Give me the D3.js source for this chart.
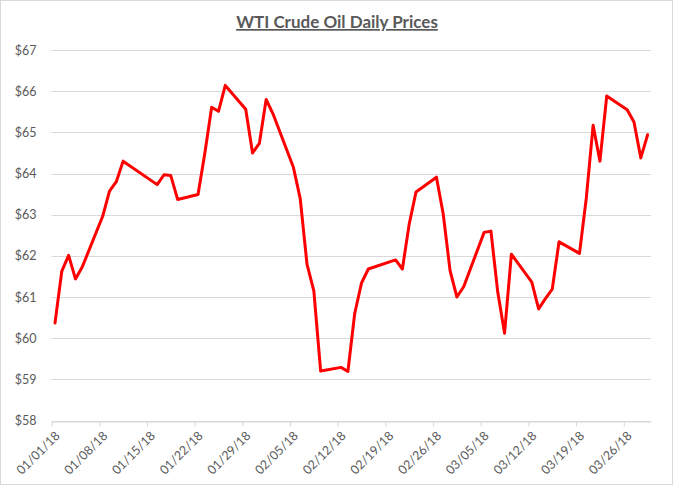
<!DOCTYPE html>
<html>
<head>
<meta charset="utf-8">
<script src="https://cdn.jsdelivr.net/npm/d3@7"></script>
<style>
  body { margin: 0; background: #fff; }
  text { font-family: Lato, "Open Sans", sans-serif; fill: #595959; }
</style>
</head>
<body>
<div class="chart"></div>
<script>
// trading days as plotted in the chart
const dates = [
    "2018-01-01", "2018-01-02", "2018-01-03", "2018-01-04", "2018-01-05",
    "2018-01-08", "2018-01-09", "2018-01-10", "2018-01-11",
    "2018-01-16", "2018-01-17", "2018-01-18", "2018-01-19",
    "2018-01-22", "2018-01-23", "2018-01-24", "2018-01-25", "2018-01-26",
    "2018-01-29", "2018-01-30", "2018-01-31", "2018-02-01", "2018-02-02",
    "2018-02-05", "2018-02-06", "2018-02-07", "2018-02-08", "2018-02-09",
    "2018-02-12", "2018-02-13", "2018-02-14", "2018-02-15", "2018-02-16",
    "2018-02-20", "2018-02-21", "2018-02-22", "2018-02-23",
    "2018-02-26", "2018-02-27", "2018-02-28", "2018-03-01", "2018-03-02",
    "2018-03-05", "2018-03-06", "2018-03-07", "2018-03-08", "2018-03-09",
    "2018-03-12", "2018-03-13", "2018-03-14", "2018-03-15", "2018-03-16",
    "2018-03-19", "2018-03-20", "2018-03-21", "2018-03-22", "2018-03-23",
    "2018-03-26", "2018-03-27", "2018-03-28", "2018-03-29"
];

const prices = [
    60.37, 61.63, 62.01, 61.44, 61.73,
    62.96, 63.57, 63.80, 64.30,
    63.73, 63.97, 63.95, 63.37,
    63.49, 64.50, 65.61, 65.51, 66.14,
    65.56, 64.50, 64.73, 65.80, 65.45,
    64.15, 63.39, 61.79, 61.15, 59.20,
    59.29, 59.19, 60.60, 61.34, 61.68,
    61.90, 61.68, 62.77, 63.55,
    63.91, 63.01, 61.64, 61.00, 61.25,
    62.57, 62.60, 61.12, 60.12, 62.04,
    61.36, 60.71, 60.96, 61.19, 62.34,
    62.06, 63.40, 65.17, 64.30, 65.88,
    65.55, 65.25, 64.38, 64.94
];

const xTickLabels = ["01/01/18", "01/08/18", "01/15/18", "01/22/18", "01/29/18",
    "02/05/18", "02/12/18", "02/19/18", "02/26/18", "03/05/18",
    "03/12/18", "03/19/18", "03/26/18"];

const yTicks = [58, 59, 60, 61, 62, 63, 64, 65, 66, 67];

var W = 674, H = 486;
var margin = { top: 50, right: 23, bottom: 65.5, left: 51.6 };

var parseDay = d3.utcParse("%Y-%m-%d");
var parseTick = d3.utcParse("%m/%d/%y");

var data = dates.map(function (d, i) {
    return { date: parseDay(d), price: prices[i] };
});

var svg = d3.select('.chart')
    .append('svg')
    .attr("width", W)
    .attr("height", H);

// chart area border
svg.append("rect")
    .attr("x", 0.5).attr("y", 0.5)
    .attr("width", 672).attr("height", 484)
    .attr("fill", "#fff")
    .attr("stroke", "#d9d9d9");

// date axis: each day is a slot, the point sits in the middle of it
var x = d3.scaleUtc()
    .domain([parseDay("2018-01-01"), parseDay("2018-03-30")])
    .range([margin.left, W - margin.right]);

var y = d3.scaleLinear()
    .domain([58, 67])
    .range([H - margin.bottom, margin.top]);

var halfDay = function (d) {
    return d3.utcHour.offset(d, 12);
};

// gridlines
svg.append("g")
    .selectAll("line")
    .data(yTicks)
    .enter()
    .append("line")
    .attr("x1", margin.left)
    .attr("x2", W - margin.right)
    .attr("y1", function (d) { return Math.round(y(d)) + 0.5; })
    .attr("y2", function (d) { return Math.round(y(d)) + 0.5; })
    .attr("stroke", "#d9d9d9")
    .attr("stroke-width", 1);

// y labels
svg.append("g")
    .attr("transform", "translate(" + (margin.left - 15) + ",0)")
    .call(d3.axisLeft(y).tickValues(yTicks).tickSize(0).tickPadding(0)
        .tickFormat(function (d) { return "$" + d; }))
    .call(function (g) { g.select(".domain").remove(); })
    .selectAll("text")
    .style("font-family", "Lato, sans-serif")
    .style("font-size", "12.5px")
    .attr("fill", "#595959");

// x axis
var tickDates = xTickLabels.map(parseTick);
var xAxis = svg.append("g")
    .attr("class", "x-axis")
    .attr("transform", "translate(0," + (Math.round(y(58)) + 0.5) + ")")
    .call(d3.axisBottom(x).tickValues(tickDates).tickSizeInner(5).tickSizeOuter(0)
        .tickFormat(function (d, i) { return xTickLabels[i]; }));

xAxis.select(".domain").attr("stroke", "#d9d9d9");
xAxis.selectAll(".tick line").attr("stroke", "#d9d9d9");
xAxis.selectAll(".tick text")
    .style("font-family", "Lato, sans-serif")
    .style("font-size", "12.5px")
    .attr("fill", "#595959")
    .attr("text-anchor", "end")
    .attr("dy", "0.35em")
    .attr("y", 0)
    .attr("transform", function (d) {
        var dx = x(halfDay(d)) - x(d);
        return "translate(" + (dx + 2) + ",12) rotate(-45)";
    });

// price line
var line = d3.line()
    .x(function (d) { return x(halfDay(d.date)); })
    .y(function (d) { return y(d.price); });

svg.append("path")
    .datum(data)
    .attr("d", line)
    .attr("fill", "none")
    .attr("stroke", "#ff0000")
    .attr("stroke-width", 3)
    .attr("stroke-linejoin", "round")
    .attr("stroke-linecap", "round");

// title
svg.append("text")
    .attr("x", W / 2)
    .attr("y", 28)
    .attr("text-anchor", "middle")
    .style("font-size", "17px")
    .style("font-weight", "bold")
    .style("text-decoration", "underline")
    .text("WTI Crude Oil Daily Prices");
</script>
</body>
</html>
